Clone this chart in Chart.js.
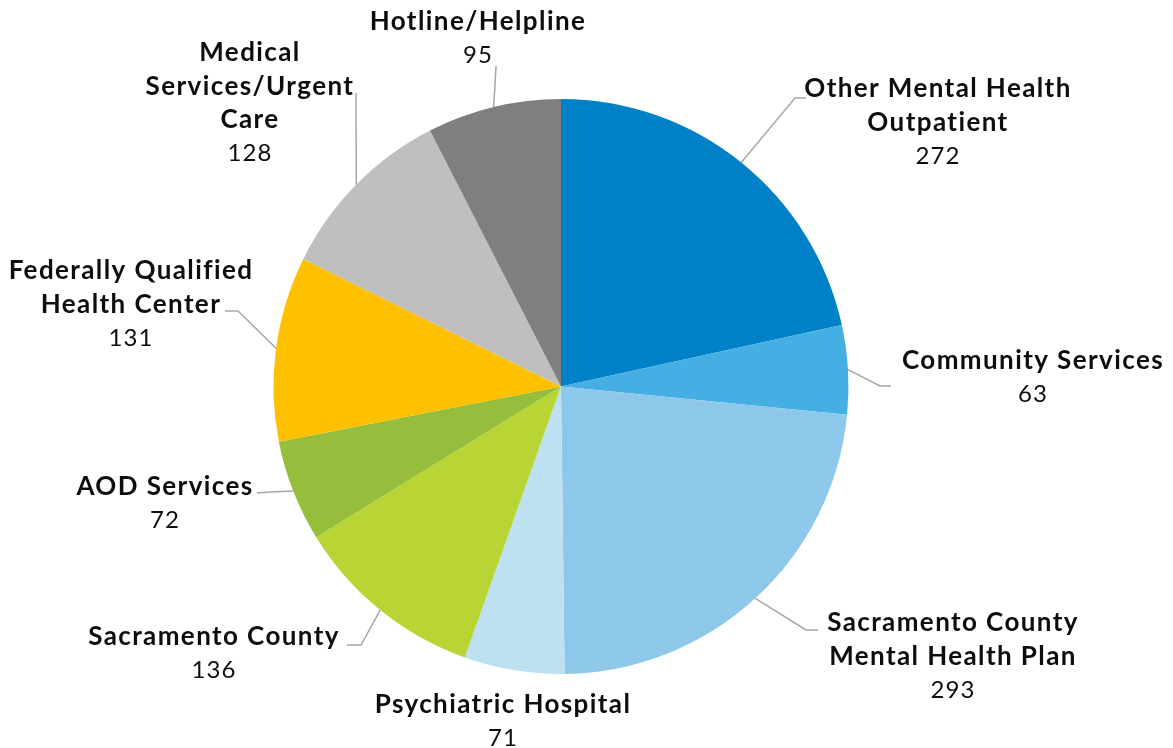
<!DOCTYPE html>
<html>
<head>
<meta charset="utf-8">
<script src="https://cdn.jsdelivr.net/npm/chart.js@4"></script>
<style>
  html, body { margin: 0; padding: 0; background: #fff; }
  #wrap { width: 1173px; height: 748px; position: relative; }
</style>
</head>
<body>
<div id="wrap"><canvas id="pieChart"></canvas></div>
<script>
// data
const categories = [
  ["Other Mental Health", "Outpatient"],
  ["Community Services"],
  ["Sacramento County", "Mental Health Plan"],
  ["Psychiatric Hospital"],
  ["Sacramento County"],
  ["AOD Services"],
  ["Federally Qualified", "Health Center"],
  ["Medical", "Services/Urgent", "Care"],
  ["Hotline/Helpline"]
];
const values = [272, 63, 293, 71, 136, 72, 131, 128, 95];
const colors = ["#0080C6", "#45AEE3", "#8DC8EA", "#BDE0F3", "#B9D535", "#96BE3C", "#FFC000", "#BFBFBF", "#7F7F7F"];

// label layout: text centre x, first line y, leader elbow + end (null = no leader)
const labelLayout = [
  { x: 938, y: 89, elbow: [795, 98], end: [806, 98] },
  { x: 1033, y: 361, elbow: [880, 386], end: [891, 386] },
  { x: 953, y: 623, elbow: [806, 630], end: [818, 630] },
  { x: 503, y: 705, elbow: null, end: null },
  { x: 214, y: 637, elbow: [361, 645], end: [347, 645] },
  { x: 165, y: 487, elbow: [270, 492], end: [257, 493] },
  { x: 131, y: 271, elbow: [238, 311], end: [225, 311] },
  { x: 250, y: 53, elbow: [356, 110], end: [356, 93] },
  { x: 478, y: 22, elbow: [495, 85], end: [496, 66] }
];

const lineH = 33.5;

const labelPlugin = {
  id: "sliceLabels",
  afterDraw(chart) {
    const ctx = chart.ctx;
    const arcs = chart.getDatasetMeta(0).data;
    ctx.save();
    arcs.forEach((arc, i) => {
      const lay = labelLayout[i];
      // leader line from slice edge at mid angle
      if (lay.elbow) {
        const mid = (arc.startAngle + arc.endAngle) / 2;
        const sx = arc.x + Math.cos(mid) * arc.outerRadius;
        const sy = arc.y + Math.sin(mid) * arc.outerRadius;
        ctx.strokeStyle = "#A6A6A6";
        ctx.lineWidth = 1.5;
        ctx.beginPath();
        ctx.moveTo(sx, sy);
        ctx.lineTo(lay.elbow[0], lay.elbow[1]);
        ctx.lineTo(lay.end[0], lay.end[1]);
        ctx.stroke();
      }
      ctx.fillStyle = "#0d0d0d";
      ctx.textAlign = "center";
      ctx.textBaseline = "middle";
      ctx.font = "bold 26px Lato";
      ctx.letterSpacing = "1.4px";
      const lines = categories[i];
      lines.forEach((t, k) => ctx.fillText(t, lay.x, lay.y + k * lineH));
      ctx.font = "24px Lato";
      ctx.letterSpacing = "1px";
      ctx.fillText(String(values[i]), lay.x, lay.y + lines.length * lineH);
    });
    ctx.restore();
  }
};

new Chart(document.getElementById("pieChart"), {
  type: "pie",
  data: {
    labels: categories.map(c => c.join(" ")),
    datasets: [{
      data: values,
      backgroundColor: colors,
      borderWidth: 0
    }]
  },
  options: {
    responsive: true,
    maintainAspectRatio: false,
    animation: false,
    layout: { padding: { top: 99, bottom: 74, left: 0, right: 51 } },
    plugins: {
      legend: { display: false },
      tooltip: { enabled: false }
    }
  },
  plugins: [labelPlugin]
});
</script>
</body>
</html>
